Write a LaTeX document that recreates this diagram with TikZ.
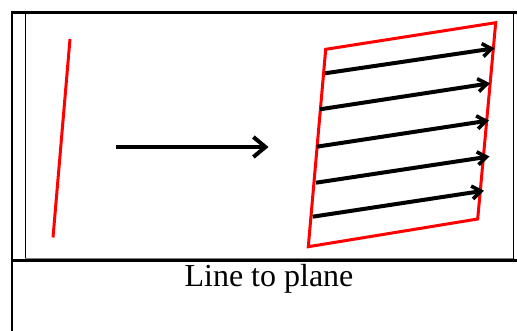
\documentclass[tikz,border=0pt]{standalone}
\usepackage{fontspec}
\setmainfont{Liberation Serif}
\usetikzlibrary{arrows.meta}

\begin{document}
\begin{tikzpicture}[
  x=1pt, y=-1pt,
  frame/.style={line width=2.4pt, black},
  thinframe/.style={line width=0.9pt, black},
  redline/.style={line width=3pt, red, line join=miter},
  bigarr/.style={line width=4.6pt, -{Straight Barb[length=12pt, width=20pt, line width=4pt]}},
  fieldarr/.style={line width=4pt, -{Straight Barb[length=9pt, width=13pt, line width=3.6pt]}},
  caption/.style={font=\fontsize{32}{36}\selectfont, anchor=base},
]
  \useasboundingbox (0,0) rectangle (517,331);

  % ===================== table frame =====================
  \draw[frame] (12,331) -- (12,12.5) -- (517,12.5);
  \draw[frame, line width=3pt] (12,260.8) -- (517,260.8);
  \draw[thinframe] (25,13) -- (25,259.5);
  \draw[thinframe] (513,13) -- (513,259.5);
  \draw[gray, line width=0.8pt] (25,258.3) -- (513,258.3);

  % ===================== LEFT: line =====================
  \coordinate (lt) at (70,39);
  \coordinate (lb) at (53,237.5);
  \draw[redline] (lt) -- (lb);

  % ===================== MIDDLE: arrow =====================
  \coordinate (ms) at (116,147);
  \coordinate (me) at (268.5,147);
  \draw[bigarr] (ms) -- (me);

  % ===================== RIGHT: plane =====================
  \coordinate (ptl) at (325.7,49.3);
  \coordinate (ptr) at (495.7,22.7);
  \coordinate (pbr) at (477.7,219);
  \coordinate (pbl) at (308.3,246.7);
  \draw[redline] (ptl) -- (ptr) -- (pbr) -- (pbl) -- cycle;

  \foreach \i/\sx/\sy/\ex/\ey in {1/325/73.3/494.5/48.3,
                                  2/320/109.3/490/83.3,
                                  3/316.7/146.7/489/120.5,
                                  4/316/182.7/489.5/156.5,
                                  5/312.7/216.7/484/190.7}{
    \coordinate (s\i) at (\sx,\sy);
    \coordinate (e\i) at (\ex,\ey);
    \draw[fieldarr] (s\i) -- (e\i);
  }

  % caption
  \node[caption] (cap) at (269,286.7) {Line to plane};
\end{tikzpicture}
\end{document}
